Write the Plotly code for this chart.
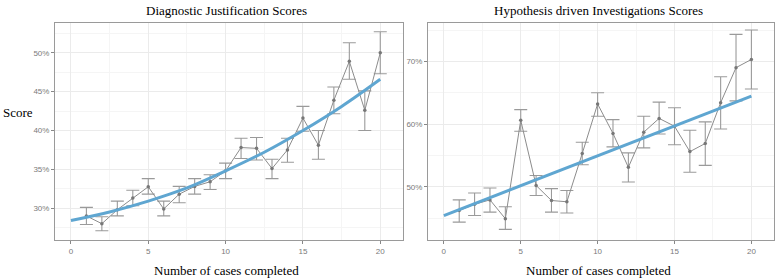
import plotly.graph_objects as go

# ---- data ----
cases = list(range(1, 21))

dj_mean = [29.0, 28.0, 29.8, 31.3, 32.75, 29.9, 31.8, 32.8, 33.4, 34.8,
           37.8, 37.7, 35.1, 37.5, 41.6, 38.1, 43.9, 48.9, 42.6, 50.0]
dj_upper = [30.1, 28.9, 30.9, 32.3, 33.8, 30.9, 32.8, 33.8, 34.3, 35.8,
            39.0, 39.1, 36.3, 39.0, 43.1, 40.0, 45.6, 51.3, 45.1, 52.7]
dj_lower = [27.9, 27.1, 29.0, 30.3, 31.8, 29.0, 30.7, 31.8, 32.4, 33.8,
            36.4, 36.2, 33.8, 35.9, 39.9, 36.3, 42.15, 46.6, 40.0, 47.3]
dj_fit_x = [0, 2.5, 5, 7.5, 10, 12.5, 15, 17.5, 20]
dj_fit_y = [28.4, 29.5, 30.9, 32.6, 34.8, 37.2, 40.0, 43.1, 46.6]

hd_mean = [46.2, 47.2, 47.9, 44.9, 60.6, 50.2, 47.8, 47.6, 55.3, 63.2,
           58.5, 53.1, 58.7, 60.9, 59.65, 55.6, 56.9, 63.4, 69.0, 70.3]
hd_upper = [47.9, 49.0, 49.8, 46.8, 62.3, 51.8, 49.7, 49.4, 57.1, 65.0,
            60.7, 55.4, 61.25, 63.5, 62.6, 59.0, 60.35, 67.55, 74.3, 75.0]
hd_lower = [44.35, 45.4, 45.95, 43.2, 58.85, 48.6, 45.95, 45.8, 53.5, 61.25,
            56.35, 50.75, 56.2, 58.4, 56.7, 52.3, 53.4, 59.2, 63.7, 65.6]
hd_fit_x = [0, 20]
hd_fit_y = [45.4, 64.45]

titles = ["Diagnostic Justification Scores", "Hypothesis driven Investigations Scores"]
x_title = "Number of cases completed"
y_title = "Score"
x_ticks = [0, 5, 10, 15, 20]
dj_yticks = [30, 35, 40, 45, 50]
hd_yticks = [50, 60, 70]

W, H = 777, 279
GREY = "#8c8c8c"
BLUE = "#5fa6d1"
SERIF = "Liberation Serif, Times New Roman, serif"
SANS = "Liberation Sans, Arial, sans-serif"

fig = go.Figure()

def add_panel(mean, upper, lower, fx, fy, xa, ya):
    plus = [u - m for u, m in zip(upper, mean)]
    minus = [m - l for m, l in zip(mean, lower)]
    fig.add_trace(go.Scatter(
        x=cases, y=mean, mode="lines+markers", xaxis=xa, yaxis=ya,
        line=dict(color=GREY, width=1),
        marker=dict(color="#777777", size=3.5),
        error_y=dict(type="data", symmetric=False, array=plus, arrayminus=minus,
                     color="#9a9a9a", thickness=1.1, width=6.5),
        showlegend=False, hoverinfo="skip"))
    fig.add_trace(go.Scatter(
        x=fx, y=fy, mode="lines", xaxis=xa, yaxis=ya,
        line=dict(color=BLUE, width=3, shape="spline"),
        showlegend=False, hoverinfo="skip"))

add_panel(dj_mean, dj_upper, dj_lower, dj_fit_x, dj_fit_y, "x", "y")
add_panel(hd_mean, hd_upper, hd_lower, hd_fit_x, hd_fit_y, "x2", "y2")

ydom = [(H - 240) / H, (H - 22.5) / H]
common_x = dict(range=[-1.03, 21.47], tickvals=x_ticks, showgrid=True,
                gridcolor="#ebebeb", gridwidth=1, zeroline=False,
                ticks="outside", ticklen=3, tickcolor="#888", tickwidth=1,
                tickfont=dict(family=SANS, size=8, color="#7a7a7a"),
                showline=True, linecolor="#9a9a9a", linewidth=1, mirror=True,
                minor=dict(dtick=2.5, tick0=0, showgrid=True, gridcolor="#f5f5f5", ticks=""))
common_y = dict(showgrid=True, gridcolor="#ebebeb", gridwidth=1, zeroline=False,
                ticks="outside", ticklen=3, tickcolor="#888", tickwidth=1,
                tickfont=dict(family=SANS, size=8, color="#7a7a7a"),
                showline=True, linecolor="#9a9a9a", linewidth=1, mirror=True,
                domain=ydom)

fig.update_layout(
    width=W, height=H,
    margin=dict(l=0, r=0, t=0, b=0),
    paper_bgcolor="white", plot_bgcolor="white",
    xaxis=dict(domain=[55 / W, 403 / W], anchor="y", **common_x),
    yaxis=dict(range=[25.9, 53.9], tickvals=dj_yticks,
               ticktext=[f"{v}%" for v in dj_yticks], anchor="x",
               minor=dict(dtick=2.5, tick0=0, showgrid=True, gridcolor="#f5f5f5", ticks=""),
               **common_y),
    xaxis2=dict(domain=[428 / W, 774 / W], anchor="y2", **common_x),
    yaxis2=dict(range=[41.5, 76.2], tickvals=hd_yticks,
                ticktext=[f"{v}%" for v in hd_yticks], anchor="x2",
                minor=dict(dtick=5, tick0=0, showgrid=True, gridcolor="#f5f5f5", ticks=""),
                **common_y),
    annotations=[
        dict(text=titles[0], x=226 / W, y=1 - 10 / H, xref="paper", yref="paper",
             xanchor="center", yanchor="middle", showarrow=False,
             font=dict(family=SERIF, size=13, color="black")),
        dict(text=titles[1], x=598 / W, y=1 - 10 / H, xref="paper", yref="paper",
             xanchor="center", yanchor="middle", showarrow=False,
             font=dict(family=SERIF, size=13, color="black")),
        dict(text=x_title, x=226 / W, y=1 - 270 / H, xref="paper", yref="paper",
             xanchor="center", yanchor="middle", showarrow=False,
             font=dict(family=SERIF, size=13, color="black")),
        dict(text=x_title, x=598 / W, y=1 - 270 / H, xref="paper", yref="paper",
             xanchor="center", yanchor="middle", showarrow=False,
             font=dict(family=SERIF, size=13, color="black")),
        dict(text=y_title, x=17.5 / W, y=1 - 113 / H, xref="paper", yref="paper",
             xanchor="center", yanchor="middle", showarrow=False,
             font=dict(family=SERIF, size=13, color="black")),
    ],
)

fig.write_html("out.html")
